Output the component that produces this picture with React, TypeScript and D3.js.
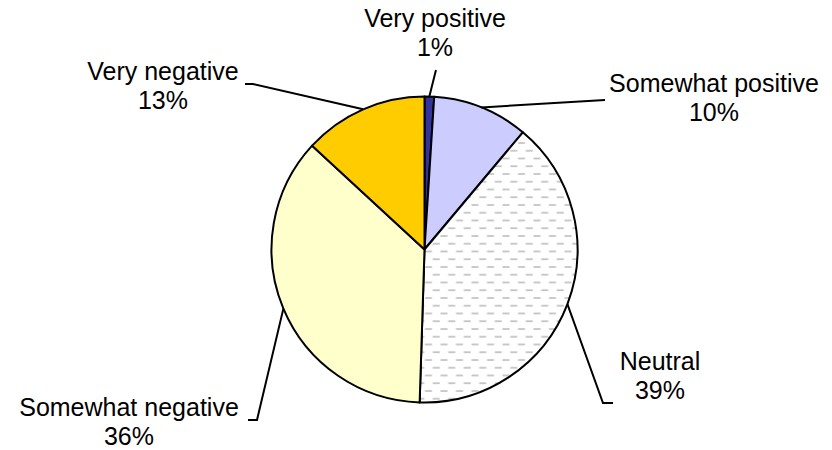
import React from "react";
import * as d3 from "d3";

const categories = ["Very positive", "Somewhat positive", "Neutral", "Somewhat negative", "Very negative"];
const values = [1, 10, 39, 36, 13];
const percentLabels = ["1%", "10%", "39%", "36%", "13%"];

const fills = ["#333399", "#CCCCFF", "url(#dashPattern)", "#FFFFCC", "#FFCC00"];

// label layout: text center x, first baseline y, and leader end / elbow points
const labelLayout = [
  { x: 435, y: 27, pts: [[436, 70]] },
  { x: 714, y: 92, pts: [[605, 100]] },
  { x: 660, y: 370, pts: [[603, 403], [613, 403]] },
  { x: 129, y: 416, pts: [[257, 420], [248, 420]] },
  { x: 163, y: 80, pts: [[253, 84], [245, 84]] },
];

const W = 832;
const H = 450;
const cx = 424.5;
const cy = 249.5;
const R = 153;
const FONT = 25;
const LINE = 29;

export default function App() {
  const pie = d3.pie<number>().sort(null).value((d) => d);
  const arcs = pie(values);
  const arc = d3.arc<d3.PieArcDatum<number>>().innerRadius(0).outerRadius(R);
  const line = d3.line();

  return (
    <svg
      width={W}
      height={H}
      style={{ position: "absolute", left: 0, top: 0, background: "#fff" }}
      fontFamily="'Liberation Sans', Arial, sans-serif"
    >
      <defs>
        <pattern id="dashPattern" width={15.5} height={15.5} patternUnits="userSpaceOnUse" x={0} y={0}>
          <rect width={15.5} height={15.5} fill="#ffffff" />
          <line x1={0.5} x2={7.5} y1={2} y2={2} stroke="#bdbdbd" strokeWidth={1.6} />
          <line x1={8.25} x2={15.25} y1={9.75} y2={9.75} stroke="#bdbdbd" strokeWidth={1.6} />
        </pattern>
      </defs>
      <g transform={`translate(${cx},${cy})`}>
        {arcs.map((a, i) => (
          <path key={i} d={arc(a) || ""} fill={fills[i]} stroke="#000" strokeWidth={2} strokeLinejoin="round" />
        ))}
      </g>
      {arcs.map((a, i) => {
        const mid = (a.startAngle + a.endAngle) / 2;
        const sx = cx + R * Math.sin(mid);
        const sy = cy - R * Math.cos(mid);
        const pts: [number, number][] = [[sx, sy], ...(labelLayout[i].pts as [number, number][])];
        return <path key={"l" + i} d={line(pts) || ""} fill="none" stroke="#000" strokeWidth={2} />;
      })}
      {categories.map((c, i) => (
        <text key={"t" + i} x={labelLayout[i].x} y={labelLayout[i].y} fontSize={FONT} textAnchor="middle" fill="#000">
          <tspan x={labelLayout[i].x}>{c}</tspan>
          <tspan x={labelLayout[i].x} dy={LINE}>{percentLabels[i]}</tspan>
        </text>
      ))}
    </svg>
  );
}
